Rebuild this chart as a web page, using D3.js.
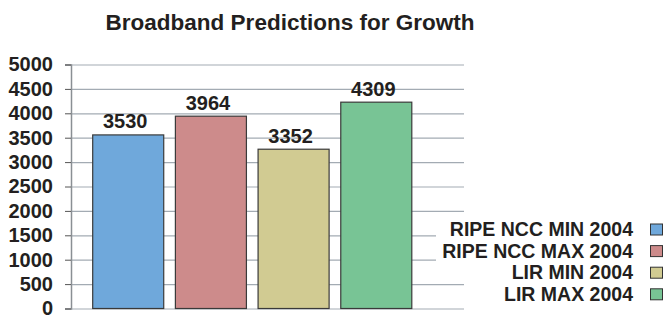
<!DOCTYPE html>
<html><head><meta charset="utf-8">
<script src="https://cdn.jsdelivr.net/npm/d3@7"></script>
<style>body{margin:0;background:#fff}svg{display:block}text{font-family:"Liberation Sans",Arial,sans-serif;font-weight:bold;fill:#231f20}</style>
</head><body><svg id="c" width="671" height="315"></svg>
<script>
const categories = ["RIPE NCC MIN 2004","RIPE NCC MAX 2004","LIR MIN 2004","LIR MAX 2004"];
const values = [3557, 3941, 3264, 4228];
const valueLabels = ["3530","3964","3352","4309"];
const colors = ["#6fa8db","#cd8b8b","#d1cb92","#78c495"];
const yTicks = [0,500,1000,1500,2000,2500,3000,3500,4000,4500,5000];
const title = "Broadband Predictions for Growth";

const svg = d3.select("#c");
const x0 = 71, x1 = 464;
const y = d3.scaleLinear().domain([0,5000]).range([308.5,64.5]);
const x = d3.scaleBand().domain(categories).range([92.7, 411.8]).paddingInner(0.141).paddingOuter(0);

svg.append("text").attr("x",290).attr("y",30).attr("text-anchor","middle")
  .style("font-size","22.5px").text(title);

// grid
svg.append("g").selectAll("line").data(yTicks).join("line")
  .attr("x1",x0).attr("x2",x1).attr("y1",d=>y(d)+0.5).attr("y2",d=>y(d)+0.5)
  .attr("stroke","#a3abb3").attr("stroke-width",1.2);

// axis
const ax = svg.append("g").attr("transform",`translate(${x0},0)`)
  .call(d3.axisLeft(y).tickValues(yTicks).tickFormat(d3.format("d")).tickSize(6).tickPadding(12));
ax.select(".domain").attr("stroke","#8a8f94").attr("stroke-width",1.5);
ax.selectAll(".tick line").attr("stroke","#555");
ax.selectAll(".tick text").style("font-size","20px").style("font-family","'Liberation Sans',Arial,sans-serif").style("font-weight","bold").attr("fill","#231f20");

// bars
svg.append("g").selectAll("rect").data(values).join("rect")
  .attr("x",(d,i)=>x(categories[i])).attr("width",x.bandwidth())
  .attr("y",d=>y(d)).attr("height",d=>y(0)-y(d))
  .attr("fill",(d,i)=>colors[i]).attr("stroke","#3a3a3a").attr("stroke-width",1.2);

svg.append("g").selectAll("text").data(values).join("text")
  .attr("x",(d,i)=>x(categories[i])+x.bandwidth()/2-3).attr("y",d=>y(d)-6.5)
  .attr("text-anchor","middle").style("font-size","20px").text((d,i)=>valueLabels[i]);

// legend
const lg = svg.append("g");
lg.append("rect").attr("x",436).attr("y",216).attr("width",235).attr("height",46).attr("fill","#fff");
const rows = lg.selectAll("g").data(categories).join("g")
  .attr("transform",(d,i)=>`translate(0,${229.5+i*21.6})`);
rows.append("rect").attr("x",650.5).attr("y",-5.5).attr("width",12).attr("height",11)
  .attr("fill",(d,i)=>colors[i]).attr("stroke","#333").attr("stroke-width",1);
rows.append("text").attr("x",633).attr("y",6.5).attr("text-anchor","end")
  .style("font-size","19.5px").text(d=>d);
</script></body></html>
